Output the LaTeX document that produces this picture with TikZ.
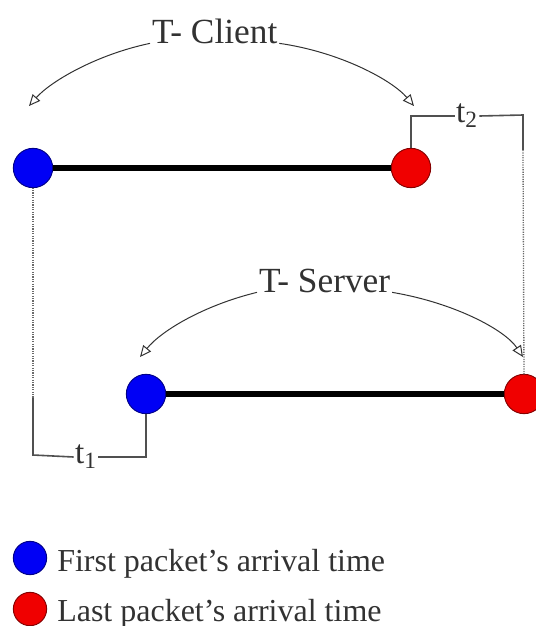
\documentclass[tikz,border=0pt]{standalone}
\usepackage{fontspec}
\setmainfont{Liberation Serif}
\usetikzlibrary{arrows.meta}
\definecolor{ptblue}{RGB}{0,0,245}
\definecolor{ptred}{RGB}{240,0,0}
\definecolor{ink}{RGB}{50,50,50}
\definecolor{rule}{RGB}{80,80,80}
\begin{document}
\begin{tikzpicture}[x=0.75pt,y=-0.75pt,
  dotblue/.style={circle, minimum size=29.5pt, inner sep=0pt, outer sep=0pt,
    fill=ptblue, draw=ptblue!55!black, line width=0.7pt},
  dotred/.style={circle, minimum size=29.5pt, inner sep=0pt, outer sep=0pt,
    fill=ptred, draw=ptred!55!black, line width=0.7pt},
  keyblue/.style={dotblue, minimum size=25pt},
  keyred/.style={dotred, minimum size=25pt},
  track/.style={line width=3.8pt, black},
  bracket/.style={draw=rule, line width=1.2pt},
  guide/.style={draw=rule!85, line width=1pt, dash pattern=on 0.9pt off 0.9pt},
  span/.style={draw=ink, line width=0.75pt, -{Triangle[open, length=8.5pt, width=7.5pt]}},
  title/.style={inner sep=0pt, outer sep=0pt, text=ink, font=\fontsize{26.5}{30}\selectfont},
  tlabel/.style={inner sep=1pt, text=ink, font=\fontsize{25}{28}\selectfont},
  legend/.style={inner sep=0pt, text=ink, font=\fontsize{24}{28}\selectfont}]
\useasboundingbox (0,0) rectangle (536,626);

% client timeline
\node[dotblue] (cb1) at (33,168) {};
\node[dotred]  (cr1) at (411,168) {};
\draw[track] (cb1) -- (cr1);

% server timeline
\node[dotblue] (cb2) at (146,394) {};
\node[dotred]  (cr2) at (524,394) {};
\draw[track] (cb2) -- (cr2);

% span labels with their arrows
\node[title, anchor=base west] (tc) at (152,43) {T- Client};
\coordinate (tcl) at (29,106);
\coordinate (tcr) at (414,106);
\draw[span] ([xshift=-1.5]tc.south west) .. controls (95,55) and (50,82) .. (tcl);
\draw[span] ([xshift=1.5]tc.south east) .. controls (340,52) and (392,80) .. (tcr);

\node[title, anchor=base west] (ts) at (259,292) {T- Server};
\coordinate (tsl) at (140,357);
\coordinate (tsr) at (523,357);
\draw[span] ([xshift=-1.5]ts.south west) .. controls (205,305) and (162,330) .. (tsl);
\draw[span] ([xshift=1.5]ts.south east) .. controls (455,303) and (505,330) .. (tsr);

% offset t2 between the last packets
\node[tlabel] (t2) at (467,116) {t\textsubscript{2}};
\coordinate (t2c) at (523,115);
\coordinate (t2d) at (523,150);
\draw[bracket] (cr1.north) |- (t2.west);
\draw[bracket] (t2.east) -- (t2c) -- (t2d);
\draw[guide] (t2d) -- (cr2.north);

% offset t1 between the first packets
\node[tlabel] (t1) at (86,457) {t\textsubscript{1}};
\coordinate (t1u) at (33,398);
\coordinate (t1c) at (33,455);
\draw[guide] (cb1.south) -- (t1u);
\draw[bracket] (t1u) -- (t1c) -- (t1.west);
\draw[bracket] (t1.east) -| (cb2.south);

% legend
\node[keyblue] (kb) at (30,558) {};
\node[keyred]  (kr) at (30,609) {};
\node[legend, anchor=base west] (lb) at (57,571) {First packet’s arrival time};
\node[legend, anchor=base west] (lr) at (57,621) {Last packet’s arrival time};
\end{tikzpicture}
\end{document}
